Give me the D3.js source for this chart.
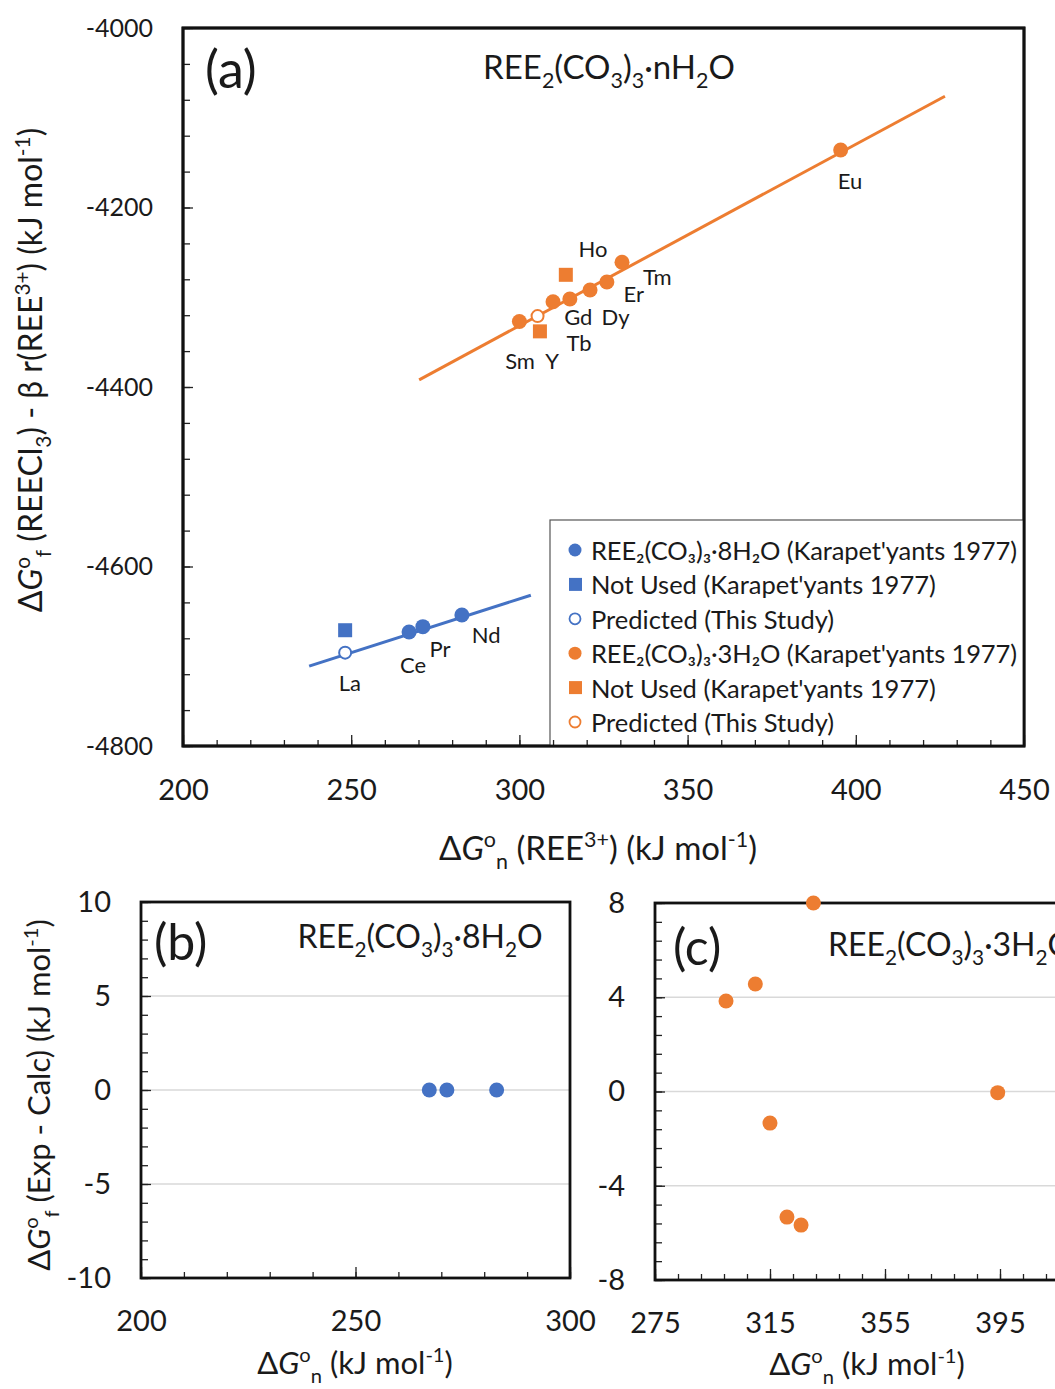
<!DOCTYPE html>
<html>
<head>
<meta charset="utf-8">
<script src="https://cdn.jsdelivr.net/npm/d3@7"></script>
<style>
  body { margin: 0; background: #fff; }
  text { font-family: Lato, "Noto Sans", sans-serif; fill: #1a1a1a; }
</style>
</head>
<body>
<script>
// ---- data ----
// panel (a): REE2(CO3)3·8H2O (blue)
const octaUsedX = [267.2, 271.3, 282.9];
const octaUsedY = [-4673, -4667, -4654];
const octaNotUsedX = [248.2];
const octaNotUsedY = [-4671];
const octaPredX = [248.2];
const octaPredY = [-4696];
const octaFitX = [237.5, 303.4];
const octaFitY = [-4711, -4632];

// panel (a): REE2(CO3)3·3H2O (orange)
const triUsedX = [300.0, 310.0, 315.0, 321.0, 326.0, 330.5, 395.5];
const triUsedY = [-4327, -4305, -4302, -4292, -4283, -4261, -4136];
const triNotUsedX = [306.1, 313.8];
const triNotUsedY = [-4338, -4275];
const triPredX = [305.4];
const triPredY = [-4321];
const triFitX = [270.2, 426.5];
const triFitY = [-4392, -4076];

// element labels in panel (a)
const labelNames = ["Eu", "Ho", "Tm", "Er", "Dy", "Gd", "Tb", "Sm", "Y", "La", "Ce", "Pr", "Nd"];
const labelX = [398.3, 321.9, 341.0, 334.0, 328.6, 317.5, 317.7, 300.2, 309.7, 249.6, 268.4, 276.4, 290.1];
const labelY = [-4170, -4246, -4277, -4296, -4321, -4321, -4350, -4370, -4370, -4729, -4709, -4691, -4676];

// panels (b), (c): residuals
const octaResX = [267.2, 271.3, 282.9];
const octaResY = [0, 0, 0];
const triResX = [299.7, 309.9, 315.0, 320.9, 325.8, 330.1, 394.2];
const triResY = [3.84, 4.56, -1.34, -5.33, -5.67, 8.0, -0.05];

// ticks
const aXTicks = [200, 250, 300, 350, 400, 450];
const aYTicks = [-4000, -4200, -4400, -4600, -4800];
const bXTicks = [200, 250, 300];
const bYTicks = [10, 5, 0, -5, -10];
const cXTicks = [275, 315, 355, 395];
const cYTicks = [8, 4, 0, -4, -8];

const legendLabels = [
  "REE₂(CO₃)₃·8H₂O (Karapet'yants 1977)",
  "Not Used (Karapet'yants 1977)",
  "Predicted (This Study)",
  "REE₂(CO₃)₃·3H₂O (Karapet'yants 1977)",
  "Not Used (Karapet'yants 1977)",
  "Predicted (This Study)"
];

const blue = "#4472C4", orange = "#ED7D31";

const svg = d3.select("body").append("svg")
  .attr("width", 1055)
  .attr("height", 1389);

// rich text: parts = [text, mode] with mode "", "i", "sub", "sup"
function rich(sel, parts, size) {
  let shift = 0;
  parts.forEach(p => {
    const mode = p[1] || "";
    const target = mode === "sub" ? 0.28 * size : mode === "sup" ? -0.38 * size : 0;
    const ts = sel.append("tspan")
      .attr("dy", (target - shift).toFixed(2))
      .attr("font-size", (mode === "sub" || mode === "sup") ? size * 0.65 : size)
      .text(p[0]);
    if (mode === "i") ts.attr("font-style", "italic");
    shift = target;
  });
}

function minors(domain, step) {
  const out = [];
  for (let v = domain[0]; v <= domain[1] + 1e-9; v += step) out.push(+v.toFixed(4));
  return out;
}

const plain = d => String(d);

function drawAxes(g, x, y, w, h, xTicks, xStep, yTicks, yStep, opts) {
  const xm = minors(x.domain(), xStep);
  const yd = y.domain().slice().sort((a, b) => a - b);
  const ym = minors(yd, yStep);
  const bx = g.append("g").attr("transform", `translate(0,${h})`);
  bx.append("g").call(d3.axisBottom(x).tickValues(xm).tickSize(-6).tickFormat(""));
  bx.append("g").call(d3.axisBottom(x).tickValues(xTicks).tickSize(-11).tickPadding(opts.xPad).tickFormat(plain));
  const ly = g.append("g");
  ly.append("g").call(d3.axisLeft(y).tickValues(ym).tickSize(-7).tickFormat(""));
  ly.append("g").call(d3.axisLeft(y).tickValues(yTicks).tickSize(-10).tickPadding(opts.yPad).tickFormat(plain));
  g.selectAll(".domain").remove();
  g.selectAll(".tick line").attr("stroke", "#222").attr("stroke-width", 1.3);
  bx.selectAll("text").attr("font-size", opts.xFont).attr("font-family", opts.xFamily || "Lato").attr("fill", "#1a1a1a");
  ly.selectAll("text").attr("font-size", opts.yFont).attr("font-family", opts.yFamily || "Lato").attr("fill", "#1a1a1a");
}

function frame(g, w, h) {
  g.append("rect").attr("width", w).attr("height", h)
    .attr("fill", "none").attr("stroke", "#111").attr("stroke-width", 2.8);
}

function dots(g, x, y, xs, ys, color, kind) {
  const data = xs.map((v, i) => [v, ys[i]]);
  if (kind === "square") {
    g.selectAll(null).data(data).enter().append("rect")
      .attr("x", d => x(d[0]) - 7).attr("y", d => y(d[1]) - 7)
      .attr("width", 14).attr("height", 14).attr("fill", color);
  } else if (kind === "open") {
    g.selectAll(null).data(data).enter().append("circle")
      .attr("cx", d => x(d[0])).attr("cy", d => y(d[1])).attr("r", 6)
      .attr("fill", "#fff").attr("stroke", color).attr("stroke-width", 2);
  } else {
    g.selectAll(null).data(data).enter().append("circle")
      .attr("cx", d => x(d[0])).attr("cy", d => y(d[1])).attr("r", 7.5)
      .attr("fill", color);
  }
}

// ================= panel (a) =================
const wA = 841, hA = 718;
const gA = svg.append("g").attr("transform", "translate(183,28)");
const xA = d3.scaleLinear().domain([200, 450]).range([0, wA]);
const yA = d3.scaleLinear().domain([-4800, -4000]).range([hA, 0]);

frame(gA, wA, hA);

const line = d3.line().x(d => xA(d[0])).y(d => yA(d[1]));
gA.append("path").datum(octaFitX.map((v, i) => [v, octaFitY[i]]))
  .attr("d", line).attr("fill", "none").attr("stroke", blue).attr("stroke-width", 3);
gA.append("path").datum(triFitX.map((v, i) => [v, triFitY[i]]))
  .attr("d", line).attr("fill", "none").attr("stroke", orange).attr("stroke-width", 3);

dots(gA, xA, yA, octaNotUsedX, octaNotUsedY, blue, "square");
dots(gA, xA, yA, octaUsedX, octaUsedY, blue, "dot");
dots(gA, xA, yA, octaPredX, octaPredY, blue, "open");
dots(gA, xA, yA, triNotUsedX, triNotUsedY, orange, "square");
dots(gA, xA, yA, triUsedX, triUsedY, orange, "dot");
dots(gA, xA, yA, triPredX, triPredY, orange, "open");

gA.selectAll(".elabel").data(labelNames).enter().append("text")
  .attr("class", "elabel")
  .attr("x", (d, i) => xA(labelX[i]))
  .attr("y", (d, i) => yA(labelY[i]))
  .attr("text-anchor", "middle")
  .attr("dominant-baseline", "central")
  .attr("font-size", 22)
  .text(d => d);

// legend
const leg = gA.append("g").attr("transform", `translate(${550 - 183},${520 - 28})`);
leg.append("rect").attr("width", 474).attr("height", 226)
  .attr("fill", "#fff").attr("stroke", "#555").attr("stroke-width", 1.2);
const legKinds = ["dot", "square", "open", "dot", "square", "open"];
const legColors = [blue, blue, blue, orange, orange, orange];
legendLabels.forEach((t, i) => {
  const cy = 30 + i * 34.4;
  const k = legKinds[i], c = legColors[i];
  if (k === "dot") leg.append("circle").attr("cx", 25).attr("cy", cy).attr("r", 6.5).attr("fill", c);
  else if (k === "square") leg.append("rect").attr("x", 19).attr("y", cy - 6.5).attr("width", 13).attr("height", 13).attr("fill", c);
  else leg.append("circle").attr("cx", 25).attr("cy", cy).attr("r", 5.5).attr("fill", "#fff").attr("stroke", c).attr("stroke-width", 1.8);
  leg.append("text").attr("x", 41).attr("y", cy).attr("dominant-baseline", "central")
    .attr("font-size", 25.5).attr("textLength", i === 0 || i === 3 ? 426 : null).text(t);
});

drawAxes(gA, xA, yA, wA, hA, aXTicks, 10, aYTicks, 40,
  {xPad: 33, yPad: 30, xFont: 29, yFont: 25, yFamily: "DejaVu Sans"});
frame(gA, wA, hA);

gA.append("text").attr("x", 22).attr("y", 40).attr("dominant-baseline", "central")
  .attr("font-size", 52).text("(a)");
const tA = gA.append("text").attr("x", 426).attr("y", 51).attr("text-anchor", "middle");
rich(tA, [["REE"], ["2", "sub"], ["(CO"], ["3", "sub"], [")"], ["3", "sub"], ["·nH"], ["2", "sub"], ["O"]], 33);

const xtA = svg.append("text").attr("x", 598).attr("y", 860).attr("text-anchor", "middle");
rich(xtA, [["Δ"], ["G", "i"], ["o", "sup"], ["n", "sub"], [" (REE"], ["3+", "sup"], [")  (kJ mol"], ["-1", "sup"], [")"]], 33);

const ytA = svg.append("text").attr("transform", "translate(42,370) rotate(-90)").attr("text-anchor", "middle");
rich(ytA, [["Δ"], ["G", "i"], ["o", "sup"], ["f", "sub"], [" (REECl"], ["3", "sub"], [") - β r(REE"], ["3+", "sup"], [")  (kJ mol"], ["-1", "sup"], [")"]], 32);

// ================= panel (b) =================
const wB = 429, hB = 376;
const gB = svg.append("g").attr("transform", "translate(141,902)");
const xB = d3.scaleLinear().domain([200, 300]).range([0, wB]);
const yB = d3.scaleLinear().domain([-10, 10]).range([hB, 0]);

gB.selectAll(".grid").data([5, 0, -5]).enter().append("line")
  .attr("x1", 0).attr("x2", wB).attr("y1", d => yB(d)).attr("y2", d => yB(d))
  .attr("stroke", "#d9d9d9").attr("stroke-width", 1.3);
drawAxes(gB, xB, yB, wB, hB, bXTicks, 10, bYTicks, 1,
  {xPad: 32, yPad: 30, xFont: 29, yFont: 29});
frame(gB, wB, hB);
dots(gB, xB, yB, octaResX, octaResY, blue, "dot");

gB.append("text").attr("x", 13).attr("y", 39).attr("dominant-baseline", "central")
  .attr("font-size", 50).text("(b)");
const tB = gB.append("text").attr("x", 279).attr("y", 46).attr("text-anchor", "middle");
rich(tB, [["REE"], ["2", "sub"], ["(CO"], ["3", "sub"], [")"], ["3", "sub"], ["·8H"], ["2", "sub"], ["O"]], 32);

const xtB = svg.append("text").attr("x", 355).attr("y", 1374).attr("text-anchor", "middle");
rich(xtB, [["Δ"], ["G", "i"], ["o", "sup"], ["n", "sub"], [" (kJ mol"], ["-1", "sup"], [")"]], 31);

const ytB = svg.append("text").attr("transform", "translate(50,1095) rotate(-90)").attr("text-anchor", "middle");
rich(ytB, [["Δ"], ["G", "i"], ["o", "sup"], ["f", "sub"], [" (Exp - Calc) (kJ mol"], ["-1", "sup"], [")"]], 31);

// ================= panel (c) =================
const wC = 460, hC = 377;
const gC = svg.append("g").attr("transform", "translate(655,903)");
const xC = d3.scaleLinear().domain([275, 435]).range([0, wC]);
const yC = d3.scaleLinear().domain([-8, 8]).range([hC, 0]);

gC.selectAll(".grid").data([4, 0, -4]).enter().append("line")
  .attr("x1", 0).attr("x2", wC).attr("y1", d => yC(d)).attr("y2", d => yC(d))
  .attr("stroke", "#d9d9d9").attr("stroke-width", 1.3);
drawAxes(gC, xC, yC, wC, hC, cXTicks, 8, cYTicks, 0.8,
  {xPad: 32, yPad: 30, xFont: 29, yFont: 29});
frame(gC, wC, hC);
dots(gC, xC, yC, triResX, triResY, orange, "dot");

gC.append("text").attr("x", 18).attr("y", 43).attr("dominant-baseline", "central")
  .attr("font-size", 50).text("(c)");
const tC = gC.append("text").attr("x", 173).attr("y", 53);
rich(tC, [["REE"], ["2", "sub"], ["(CO"], ["3", "sub"], [")"], ["3", "sub"], ["·3H"], ["2", "sub"], ["O"]], 32);

const xtC = svg.append("text").attr("x", 867).attr("y", 1375).attr("text-anchor", "middle");
rich(xtC, [["Δ"], ["G", "i"], ["o", "sup"], ["n", "sub"], [" (kJ mol"], ["-1", "sup"], [")"]], 31);
</script>
</body>
</html>
